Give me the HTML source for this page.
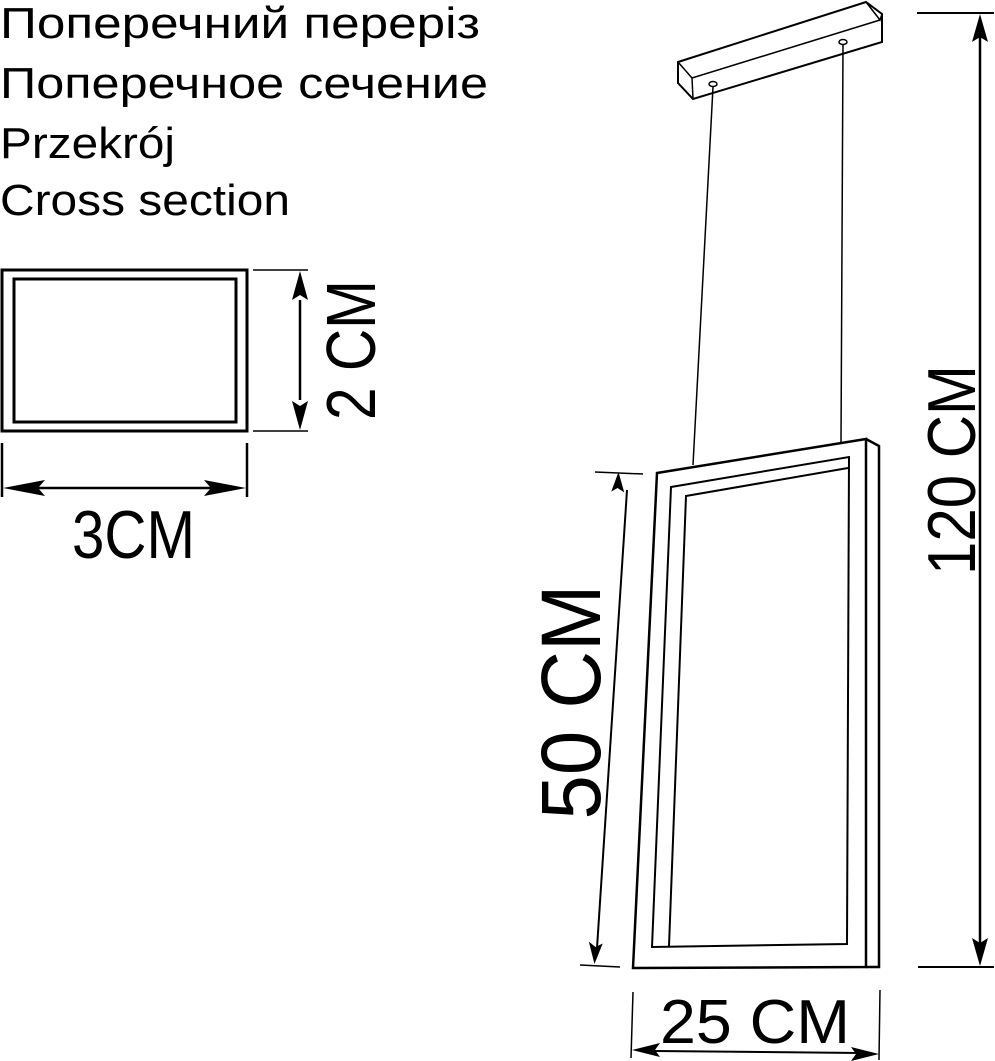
<!DOCTYPE html>
<html><head><meta charset="utf-8"><style>html,body{margin:0;padding:0;background:#fff}svg{display:block}</style></head>
<body>
<svg width="995" height="1061" viewBox="0 0 995 1061" xmlns="http://www.w3.org/2000/svg">
<defs>
<marker id="a" viewBox="0 0 10 10" refX="10" refY="5" markerWidth="10" markerHeight="10" orient="auto" markerUnits="userSpaceOnUse">
<path d="M0,0 L10,5 L0,10 L3,5 z" fill="#000"/></marker>
<marker id="b" viewBox="0 0 20 12" refX="20" refY="6" markerWidth="20" markerHeight="12" orient="auto" markerUnits="userSpaceOnUse">
<path d="M0,0 L20,6 L0,12 L5,6 z" fill="#000"/></marker>
</defs>
<g font-family="Liberation Sans, DejaVu Sans, sans-serif" font-size="44" fill="#000">
<text x="0" y="38" textLength="480" lengthAdjust="spacingAndGlyphs">Поперечний переріз</text>
<text x="0" y="98" textLength="488" lengthAdjust="spacingAndGlyphs">Поперечное сечение</text>
<text x="0" y="158" textLength="175" lengthAdjust="spacingAndGlyphs">Przekrój</text>
<text x="0" y="215" textLength="290" lengthAdjust="spacingAndGlyphs">Cross section</text>
</g>
<g fill="none" stroke="#000" stroke-width="2.5">
<!-- cross section -->
<rect x="2" y="270" width="245" height="161" stroke-width="3"/>
<rect x="14" y="279" width="222" height="143" stroke-width="3"/>
<line x1="253" y1="270" x2="308" y2="270" stroke-width="1.5"/>
<line x1="253" y1="431" x2="308" y2="431" stroke-width="1.5"/>
<line x1="300" y1="300" x2="300" y2="400"/>
<path d="M300,271 L292,300 L300,295 L308,300 z M300,430 L292,401 L300,406 L308,401 z" fill="#000" stroke="none"/>
<line x1="2" y1="443" x2="2" y2="497"/>
<line x1="247" y1="443" x2="247" y2="497"/>
<line x1="30" y1="488" x2="220" y2="488"/>
<path d="M3,488 L45,480 L38,488 L45,496 z M246,488 L204,480 L211,488 L204,496 z" fill="#000" stroke="none"/>
<!-- canopy -->
<path d="M678,62 L866,2 L882,14 L882,42 L693,99 L678,83 z" stroke-width="2"/>
<path d="M678,62 L692,78 L880,20 M692,78 L693,99 M866,2 L880,20 L882,14" stroke-width="1.5"/>
<ellipse cx="713" cy="84" rx="4" ry="2.5" stroke-width="1.5"/>
<ellipse cx="843" cy="42" rx="4" ry="2.5" stroke-width="1.5"/>
<line x1="713" y1="87" x2="693" y2="465" stroke-width="1.5"/>
<line x1="843" y1="45" x2="841" y2="442" stroke-width="1.5"/>
<!-- panel -->
<path d="M657,473 L866,439 L866,967 L633,968 z" stroke-width="2.5"/>
<path d="M866,439 L879,446 L879,967 L866,967" stroke-width="2.5"/>
<path d="M652,947 L671,487 L849,457 L847,944 z" stroke-width="2"/>
<path d="M669,946 L686,496 L848,468" stroke-width="2"/>
<!-- 50cm -->
<line x1="595" y1="472" x2="643" y2="474" stroke-width="1.5"/>
<line x1="580" y1="965" x2="620" y2="967" stroke-width="1.5"/>
<line x1="627" y1="490" x2="597" y2="948" stroke-width="2"/>
<path d="M618,472 L612,492 L618,488 L625,492 z" fill="#000" stroke="none" transform="rotate(3.6 618 480)"/>
<path d="M595,964 L588,942 L595,947 L602,943 z" fill="#000" stroke="none" transform="rotate(3.6 595 955)"/>
<!-- 120cm -->
<line x1="917" y1="13" x2="994" y2="13" stroke-width="2"/>
<line x1="918" y1="967" x2="994" y2="967" stroke-width="2"/>
<line x1="980" y1="35" x2="980" y2="945" stroke-width="2.5"/>
<path d="M980,14 L972,42 L980,37 L988,42 z M980,966 L972,938 L980,943 L988,938 z" fill="#000" stroke="none"/>
<!-- 25cm -->
<line x1="633" y1="992" x2="631" y2="1058" stroke-width="1.5"/>
<line x1="880" y1="990" x2="879" y2="1060" stroke-width="1.5"/>
<line x1="655" y1="1051" x2="860" y2="1053" stroke-width="2"/>
<path d="M632,1050 L660,1043 L655,1050 L660,1057 z M879,1054 L851,1047 L856,1054 L851,1061 z" fill="#000" stroke="none"/>
</g>
<g font-family="Liberation Sans, DejaVu Sans, sans-serif" fill="#000" font-weight="normal">
<text x="72" y="558" font-size="68" textLength="123" lengthAdjust="spacingAndGlyphs">3CM</text>
<text transform="translate(375,350) rotate(-90)" text-anchor="middle" font-size="70" textLength="140" lengthAdjust="spacingAndGlyphs">2 CM</text>
<text transform="translate(600,702) rotate(-90)" text-anchor="middle" font-size="84" textLength="235" lengthAdjust="spacingAndGlyphs">50 CM</text>
<text transform="translate(975,470) rotate(-90)" text-anchor="middle" font-size="68" textLength="210" lengthAdjust="spacingAndGlyphs">120 CM</text>
<text x="660" y="1043" font-size="62" textLength="190" lengthAdjust="spacingAndGlyphs">25 CM</text>
</g>
</svg>
</body></html>
